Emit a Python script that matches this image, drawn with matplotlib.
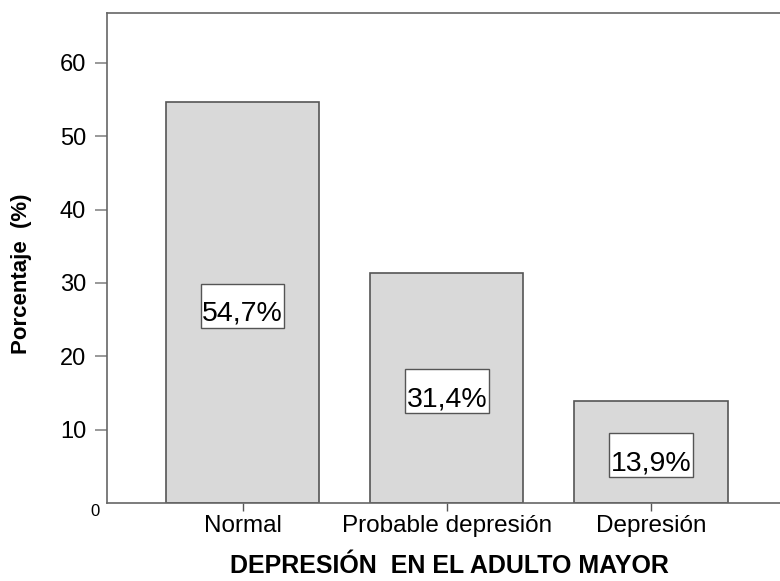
import matplotlib
matplotlib.use("Agg")
import matplotlib.pyplot as plt
from matplotlib.patches import Rectangle
import numpy as np

plt.rcParams['font.family'] = ['Liberation Sans', 'DejaVu Sans']

categorias = ['Normal', 'Probable depresión', 'Depresión']
porcentajes = [54.7, 31.4, 13.9]
etiquetas = ['54,7%', '31,4%', '13,9%']
yticks = [10, 20, 30, 40, 50, 60]

fig = plt.figure(figsize=(7.8, 5.81), dpi=100)
ax = fig.add_axes([0.1372, 0.1343, 0.8628, 0.8433])

x = np.arange(len(categorias))
ax.bar(x, porcentajes, width=0.75, color='#d9d9d9', edgecolor='#555555', linewidth=1.2)

# cajas de etiqueta (blancas) en el centro de cada barra
caja_w, caja_h = 0.41, 6.0
for xi, v, t in zip(x, porcentajes, etiquetas):
    yc = v / 2 - 0.45
    ax.add_patch(Rectangle((xi - caja_w / 2, yc - caja_h / 2), caja_w, caja_h,
                           facecolor='white', edgecolor='#555555', linewidth=1, zorder=3))
    ax.text(xi, yc - 2.05, t, ha='center', va='baseline', fontsize=20.5, zorder=4)

ax.set_xlim(-0.664, 2.632)
ax.set_ylim(0, 66.8)

ax.set_yticks(yticks)
ax.set_yticklabels([str(t) for t in yticks], fontsize=17)
ax.tick_params(axis='y', length=9, width=1.2, color='#888888', pad=6)
ax.text(-0.7, -0.1, '0', ha='right', va='top', fontsize=12)

ax.set_xticks(x)
ax.set_xticklabels(categorias, fontsize=17.5)
ax.tick_params(axis='x', length=6, width=1, color='#555555', pad=3)

fig.text(0.0282, 0.528, 'Porcentaje  (%)', rotation=90, ha='center', va='center',
         fontsize=16, fontweight='bold')
fig.text(0.5756, 0.013, 'DEPRESIÓN  EN EL ADULTO MAYOR', ha='center', va='baseline',
         fontsize=18, fontweight='bold')

ax.spines['right'].set_visible(False)
for s in ['left', 'top', 'bottom']:
    ax.spines[s].set_color('#666666')
    ax.spines[s].set_linewidth(1.2)

fig.savefig('out.png', dpi=100)
